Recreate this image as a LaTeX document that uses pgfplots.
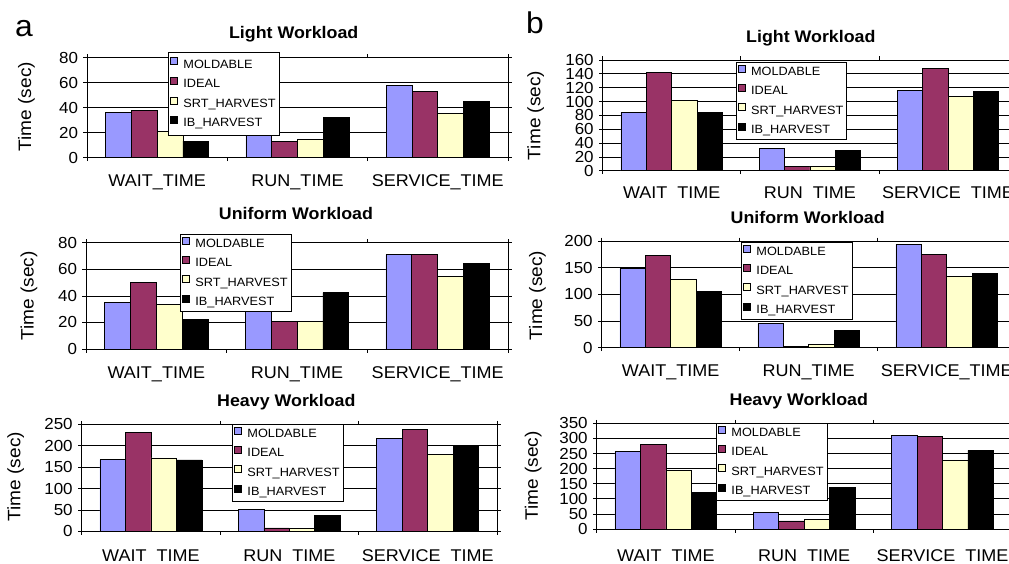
\documentclass[border=0pt]{standalone}
\usepackage{fontspec}
\setmainfont{Liberation Sans}[FakeStretch=1.06]
\usepackage{pgfplots}
\pgfplotsset{compat=1.18}
\definecolor{cMold}{HTML}{9999FF}
\definecolor{cIdeal}{HTML}{993366}
\definecolor{cSrt}{HTML}{FFFFCC}
\definecolor{cIb}{HTML}{000000}
\pgfplotsset{
  wl/.style={
    scale only axis,
    anchor=south west,
    xmin=-0.5, xmax=2.5, ymin=0,
    xtick={-0.5,0.5,1.5,2.5}, xticklabels={},
    extra x ticks={0,1,2},
    extra x tick style={major tick length=0pt,
      xticklabel style={anchor=base, font=\fontsize{17}{20}\selectfont}},
    tick align=outside, major tick length=3.5pt,
    tick style={black, line width=0.7pt},
    ymajorgrids, grid style={black, line width=0.7pt},
    axis line style={black, line width=0.7pt},
    ybar, bar width=0.184,
    ticklabel style={font=\fontsize{16}{19}\selectfont},
    yticklabel style={xshift=-2pt},
    /pgf/number format/assume math mode=true,
    ylabel={Time (sec)},
    ylabel style={font=\fontsize{18}{21}\selectfont, anchor=center},
    title style={font=\bfseries\fontsize{16.8}{20}\selectfont, anchor=base},
    legend cell align=left,
    legend image code/.code={\draw[#1,draw=black,line width=0.6pt] (0pt,0.3pt) rectangle (7pt,7.3pt);},
    legend style={anchor=north west, draw=black, line width=0.7pt, fill=white,
      inner xsep=2pt, inner ysep=2.45pt, row sep=4.7pt, column sep=4pt,
      font=\fontsize{12}{14}\selectfont,
      nodes={inner xsep=1.5pt, inner ysep=1.5pt, text height=8.6pt, text depth=2.4pt}},
  },
  pm/.style={fill=cMold, draw=black, line width=0.7pt, bar shift=-0.276},
  pi/.style={fill=cIdeal, draw=black, line width=0.7pt, bar shift=-0.092},
  ps/.style={fill=cSrt, draw=black, line width=0.7pt, bar shift=0.092},
  pb/.style={fill=cIb, draw=black, line width=0.7pt, bar shift=0.276},
}
\begin{document}
\begin{tikzpicture}
\path[use as bounding box, clip] (0pt,0pt) rectangle (1009pt,563pt);
\node[font=\fontsize{30}{36}\selectfont, anchor=base] at (24pt,526.3pt) {a};
\node[font=\fontsize{30}{36}\selectfont, anchor=base] at (535pt,529pt) {b};

% a1 Light
\begin{axis}[wl, at={(87pt,405.3pt)}, width=421pt, height=100pt,
  ymax=80, ytick={0,20,...,80},
  extra x tick labels={WAIT\_TIME,RUN\_TIME,SERVICE\_TIME},
  extra x tick style={xticklabel style={yshift=-29pt}},
  title={Light Workload}, title style={at={(axis description cs:0.5,1)}, yshift=12.7pt, xshift=-3.8pt},
  ylabel style={at={(axis description cs:-0.1437,0.51)}},
  legend style={at={(axis description cs:0.1924,1.057)}, inner ysep=5pt, row sep=5pt}]
\addplot[pm] coordinates {(0,36.3) (1,28) (2,57.6)};
\addplot[pi] coordinates {(0,38.1) (1,12.8) (2,52.8)};
\addplot[ps] coordinates {(0,20.8) (1,14.7) (2,35.5)};
\addplot[pb] coordinates {(0,13.3) (1,32) (2,44.8)};
\legend{MOLDABLE,IDEAL,SRT\_HARVEST,IB\_HARVEST}
\end{axis}

% a2 Uniform
\begin{axis}[wl, at={(86pt,214pt)}, width=422pt, height=106.3pt,
  ymax=80, ytick={0,20,...,80},
  extra x tick labels={WAIT\_TIME,RUN\_TIME,SERVICE\_TIME},
  extra x tick style={xticklabel style={yshift=-29.3pt}},
  title={Uniform Workload}, title style={at={(axis description cs:0.5,1)}, yshift=17.7pt, xshift=-1pt},
  ylabel style={at={(axis description cs:-0.135,0.5)}},
  legend style={at={(axis description cs:0.2227,1.082)}}]
\addplot[pm] coordinates {(0,35.3) (1,38) (2,71)};
\addplot[pi] coordinates {(0,50.4) (1,20.6) (2,71.2)};
\addplot[ps] coordinates {(0,33.6) (1,20.8) (2,54.9)};
\addplot[pb] coordinates {(0,22) (1,42.4) (2,64.4)};
\legend{MOLDABLE,IDEAL,SRT\_HARVEST,IB\_HARVEST}
\end{axis}

% a3 Heavy
\begin{axis}[wl, at={(81.7pt,31.7pt)}, width=415.3pt, height=107pt,
  ymax=250, ytick={0,50,...,250},
  extra x tick labels={WAIT\ \ TIME,RUN\ \ TIME,SERVICE\ \ TIME},
  extra x tick style={xticklabel style={yshift=-30.4pt}},
  title={Heavy Workload}, title style={at={(axis description cs:0.5,1)}, yshift=11.6pt, xshift=-3pt},
  ylabel style={at={(axis description cs:-0.1587,0.51)}},
  legend style={at={(axis description cs:0.362,1.003)}}]
\addplot[pm] coordinates {(0,167.4) (1,50.6) (2,217.3)};
\addplot[pi] coordinates {(0,230.5) (1,7.8) (2,237.5)};
\addplot[ps] coordinates {(0,171.3) (1,6.2) (2,179)};
\addplot[pb] coordinates {(0,166.7) (1,36.6) (2,201)};
\legend{MOLDABLE,IDEAL,SRT\_HARVEST,IB\_HARVEST}
\end{axis}

% b1 Light
\begin{axis}[wl, at={(602.7pt,392.3pt)}, width=414.3pt, height=110.7pt,
  ymax=160, ytick={0,20,...,160},
  extra x tick labels={WAIT\ \ TIME,RUN\ \ TIME,SERVICE\ \ TIME},
  extra x tick style={xticklabel style={yshift=-27.6pt}},
  title={Light Workload}, title style={at={(axis description cs:0.5,1)}, yshift=11.7pt, xshift=1pt},
  ylabel style={at={(axis description cs:-0.1615,0.5)}},
  legend style={at={(axis description cs:0.321,0.982)}}]
\addplot[pm] coordinates {(0,84.8) (1,31.8) (2,116)};
\addplot[pi] coordinates {(0,142) (1,6.3) (2,147.5)};
\addplot[ps] coordinates {(0,102) (1,5.8) (2,107.5)};
\addplot[pb] coordinates {(0,84.8) (1,29.9) (2,114)};
\legend{MOLDABLE,IDEAL,SRT\_HARVEST,IB\_HARVEST}
\end{axis}

% b2 Uniform
\begin{axis}[wl, at={(601.7pt,215.3pt)}, width=414pt, height=106.7pt,
  ymax=200, ytick={0,50,...,200},
  extra x tick labels={WAIT\_TIME,RUN\_TIME,SERVICE\_TIME},
  extra x tick style={xticklabel style={yshift=-28.3pt}},
  title={Uniform Workload}, title style={at={(axis description cs:0.5,1)}, yshift=11.7pt, xshift=-1pt},
  ylabel style={at={(axis description cs:-0.155,0.49)}},
  legend style={at={(axis description cs:0.3365,0.991)}}]
\addplot[pm] coordinates {(0,148.8) (1,45) (2,194)};
\addplot[pi] coordinates {(0,172.5) (1,2.5) (2,175)};
\addplot[ps] coordinates {(0,127.5) (1,5.6) (2,133)};
\addplot[pb] coordinates {(0,106) (1,33) (2,138.8)};
\legend{MOLDABLE,IDEAL,SRT\_HARVEST,IB\_HARVEST}
\end{axis}

% b3 Heavy
\begin{axis}[wl, at={(596.7pt,34pt)}, width=415pt, height=105.7pt,
  ymax=350, ytick={0,50,...,350},
  extra x tick labels={WAIT\ \ TIME,RUN\ \ TIME,SERVICE\ \ TIME},
  extra x tick style={xticklabel style={yshift=-32pt}},
  title={Heavy Workload}, title style={at={(axis description cs:0.5,1)}, yshift=11.6pt, xshift=-5.4pt},
  ylabel style={at={(axis description cs:-0.1528,0.5)}},
  legend style={at={(axis description cs:0.2875,1.003)}}]
\addplot[pm] coordinates {(0,256) (1,54) (2,311)};
\addplot[pi] coordinates {(0,280) (1,26.5) (2,307)};
\addplot[ps] coordinates {(0,195) (1,31) (2,228.5)};
\addplot[pb] coordinates {(0,121.4) (1,139) (2,260.5)};
\legend{MOLDABLE,IDEAL,SRT\_HARVEST,IB\_HARVEST}
\end{axis}
\end{tikzpicture}
\end{document}
